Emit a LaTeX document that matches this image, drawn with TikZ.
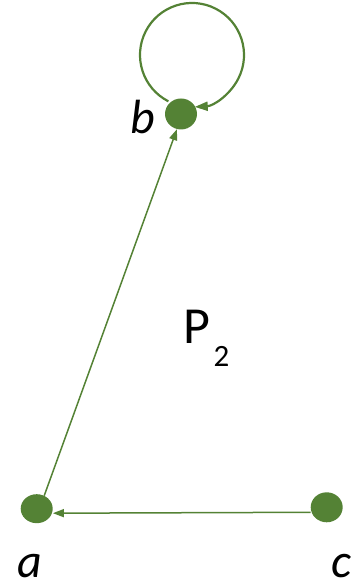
\documentclass[tikz,border=0pt]{standalone}
\usepackage{fontspec}
\setmainfont{Carlito}
\usetikzlibrary{arrows.meta,shapes.geometric}
\definecolor{gr}{HTML}{548235}
\tikzset{
  vtx/.style={ellipse,fill=gr,draw=none,inner sep=0pt},
  arr/.style={draw=gr,line width=1.5pt,-{Triangle[length=11pt,width=8pt]}},
  lbl/.style={inner sep=0pt,anchor=base,font=\fontsize{48}{48}\itshape\selectfont},
}
\begin{document}
\begin{tikzpicture}[x=1pt,y=1pt]
\useasboundingbox (0,0) rectangle (356,585);
\node[vtx,minimum width=32pt,minimum height=29pt] (a) at (36.7,76.3) {};
\node[vtx,minimum width=32pt,minimum height=31pt] (b) at (181,471) {};
\node[vtx,minimum width=32pt,minimum height=30pt] (c) at (326.7,77.7) {};
\coordinate (lc) at (192,530);
\draw[arr] ([yshift=-5pt]c.west) -- ([yshift=-4.5pt]a.east);
\draw[arr] (a.60) -- (b.255);
\draw[arr,line width=2.2pt,-{Triangle[length=13pt,width=9pt]}] ([shift={(243:52)}]lc) arc[start angle=243,end angle=-87,radius=52];
\node[lbl] (la) at (29.5,8) {a};
\node[lbl] (lb) at (143,451) {b};
\node[lbl] (lcc) at (341.5,8) {c};
\node[inner sep=0pt,anchor=base,font=\fontsize{52}{52}\selectfont] (p) at (197,241) {P};
\node[inner sep=0pt,anchor=base,font=\fontsize{31}{31}\selectfont] (two) at (221.5,218) {2};
\end{tikzpicture}
\end{document}
